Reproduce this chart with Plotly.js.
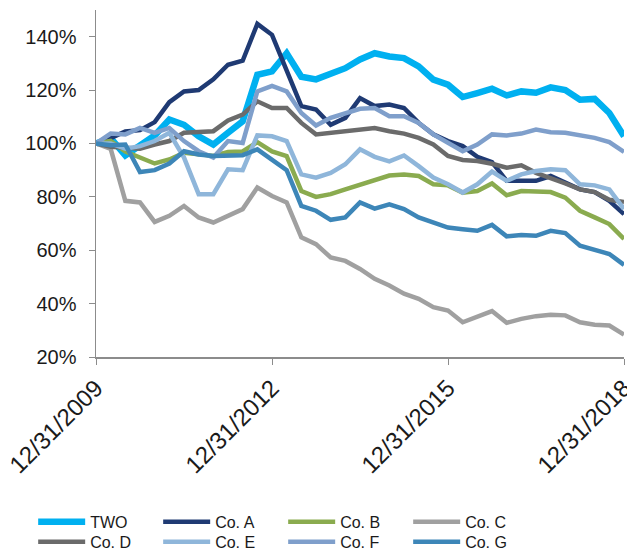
<!DOCTYPE html>
<html>
<head>
<meta charset="utf-8">
<script src="https://cdn.plot.ly/plotly-3.0.1.min.js"></script>
<style>
  html, body { margin: 0; padding: 0; background: #fff; }
  #chartBox { width: 627px; height: 560px; }
</style>
</head>
<body>
<div id="chartBox"></div>
<script>
// quarter ends, 12/31/2009 .. 12/31/2018
const quarters = [
  "12/31/2009", "3/31/2010", "6/30/2010", "9/30/2010",
  "12/31/2010", "3/31/2011", "6/30/2011", "9/30/2011",
  "12/31/2011", "3/31/2012", "6/30/2012", "9/30/2012",
  "12/31/2012", "3/31/2013", "6/30/2013", "9/30/2013",
  "12/31/2013", "3/31/2014", "6/30/2014", "9/30/2014",
  "12/31/2014", "3/31/2015", "6/30/2015", "9/30/2015",
  "12/31/2015", "3/31/2016", "6/30/2016", "9/30/2016",
  "12/31/2016", "3/31/2017", "6/30/2017", "9/30/2017",
  "12/31/2017", "3/31/2018", "6/30/2018", "9/30/2018",
  "12/31/2018"
];
const tickDates = ["12/31/2009", "12/31/2012", "12/31/2015", "12/31/2018"];
const yTicks = [20, 40, 60, 80, 100, 120, 140];
const yLabels = ["20%", "40%", "60%", "80%", "100%", "120%", "140%"];

// cumulative value, % of 12/31/2009
const two = [100, 102, 95.5, 99.6, 103, 109, 107, 102.7, 99.6, 104,
  108.3, 125.7, 127, 133.8, 125, 124, 126.4, 128.2, 131.5, 133.8,
  132.6, 132, 128.9, 123.9, 122, 117.4, 118.9, 120.5, 118, 119.5,
  119, 121, 120, 116.4, 116.7, 111.4, 102.7];
const coA = [100, 102, 104.5, 105, 108, 115.5, 119.5, 120, 124, 129.5,
  131, 144.8, 140.7, 127.6, 114, 112.7, 107, 109.6, 117, 114,
  114.6, 113.3, 107.7, 103.4, 100.9, 99, 95, 93, 86, 86,
  86, 87.8, 85.3, 82.8, 81.8, 78.5, 73.5];
const coB = [100, 101, 97, 94.7, 92.5, 94, 96.5, 96, 95.3, 96.8,
  97, 100.5, 97, 95.3, 82.2, 80, 81, 82.8, 84.5, 86,
  88, 88.4, 87.8, 84.7, 84.3, 81.6, 82.2, 85, 80.6, 82.2,
  81.8, 81.8, 79.7, 74.8, 72.3, 69.8, 64.2];
const coC = [100, 98, 78.5, 77.9, 70.6, 72.9, 76.6, 72.3, 70.4, 72.9,
  75.4, 83.5, 80.3, 77.9, 64.8, 62.3, 57.3, 56, 53, 49.3,
  46.8, 43.7, 41.8, 38.7, 37.4, 33, 34.9, 37.2, 32.8, 34.3,
  35.3, 35.8, 35.6, 33, 32.1, 31.8, 28.4];
const coD = [100, 98.8, 98.4, 98, 99.6, 100.9, 104, 104.2, 104.6, 108.6,
  110.8, 115.8, 113.3, 113.3, 107.7, 103.4, 104, 105, 105.5, 105.8,
  104.6, 103.7, 102.1, 99.6, 95.3, 93.8, 93.4, 92.4, 90.9, 91.8,
  89, 87.2, 85, 82.8, 81.8, 78.9, 78.1];
const coE = [100, 100, 98, 99, 100.9, 104, 94.7, 81, 81, 90.3,
  90, 103, 102.7, 100.9, 88.4, 87.2, 89, 92.2, 97.8, 95,
  93.3, 95.5, 91.5, 87.2, 84.7, 81.6, 84.7, 89.5, 86, 88.4,
  89.7, 90.3, 90, 84.7, 84.3, 82.8, 75.4];
const coF = [100, 103.7, 103.4, 105.8, 104, 105.8, 100.9, 97.1, 94.7, 100.9,
  100.2, 119.5, 121.6, 119.5, 111.4, 106.7, 109.6, 111.4, 113, 113.3,
  110.2, 110.2, 107.7, 103.4, 100.2, 97.1, 99.6, 103.4, 103, 103.7,
  105.2, 104.2, 104, 103, 102.1, 100.5, 96.8];
const coG = [100, 99.3, 99.6, 89.3, 90, 92.5, 97.1, 95.9, 95.3, 95.5,
  95.6, 97.8, 94, 90, 76.6, 74.8, 71.4, 72.3, 77.9, 75.6,
  77.2, 75.4, 72.3, 70.4, 68.5, 67.9, 67.3, 69.5, 65.2, 65.7,
  65.4, 67.3, 66.4, 61.7, 60.2, 58.6, 54.5];

const names = ["TWO", "Co. A", "Co. B", "Co. C", "Co. D", "Co. E", "Co. F", "Co. G"];
const series = [two, coA, coB, coC, coD, coE, coF, coG];
const colors = ["#00b0f0", "#1f3a73", "#8aab4f", "#a0a0a0",
                "#6b6b6b", "#8fb6da", "#7f9fcb", "#3d86b8"];

// first four names in the top legend row, the rest in the second
const data = series.map((ys, k) => ({
  x: quarters,
  y: ys,
  name: names[k],
  legend: k < 4 ? "legend" : "legend2",
  type: "scatter",
  mode: "lines",
  line: { color: colors[k], width: k === 0 ? 6.5 : 4.5 },
  hoverinfo: "skip"
}));

const font = "Liberation Sans, Arial, sans-serif";

const legendRow = {
  orientation: "h",
  x: -0.119,
  xanchor: "left",
  bgcolor: "rgba(0,0,0,0)",
  itemwidth: 47,
  entrywidth: 63,
  entrywidthmode: "pixels",
  font: { size: 16 }
};

const layout = {
  width: 627,
  height: 560,
  margin: { l: 96, r: 3, t: 10, b: 202 },
  paper_bgcolor: "#fff",
  plot_bgcolor: "#fff",
  showlegend: true,
  font: { family: font, size: 16, color: "#1a1a1a" },
  xaxis: {
    type: "category",
    range: [0, quarters.length - 1],
    tickvals: tickDates,
    ticktext: tickDates,
    tickangle: -45,
    ticks: "outside",
    ticklen: 6,
    tickcolor: "#8c8c8c",
    showline: true,
    linecolor: "#8c8c8c",
    linewidth: 1.5,
    showgrid: false,
    zeroline: false,
    automargin: false,
    tickfont: { size: 24 }
  },
  yaxis: {
    range: [20, 150],
    tickvals: yTicks,
    ticktext: yLabels,
    ticks: "outside",
    ticklen: 6,
    tickcolor: "#8c8c8c",
    ticklabelstandoff: 8,
    showline: true,
    linecolor: "#8c8c8c",
    linewidth: 1.5,
    showgrid: false,
    zeroline: false,
    automargin: false,
    tickfont: { size: 20 }
  },
  legend: Object.assign({}, legendRow, { y: -0.422, yanchor: "top" }),
  legend2: Object.assign({}, legendRow, { y: -0.577, yanchor: "bottom" })
};

Plotly.newPlot("chartBox", data, layout, { staticPlot: true });
</script>
</body>
</html>
